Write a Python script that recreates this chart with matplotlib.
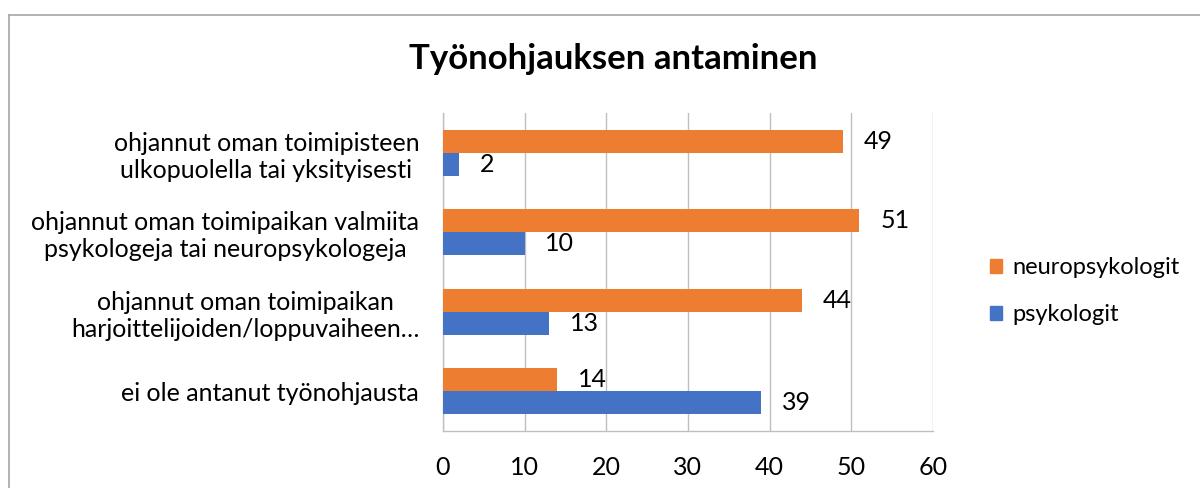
import matplotlib
matplotlib.use("Agg")
import matplotlib.pyplot as plt
from matplotlib.lines import Line2D
from matplotlib.patches import Patch
import numpy as np

plt.rcParams['font.family'] = ['Lato', 'DejaVu Sans']

# data, top to bottom as in the chart
categories = [
    "ohjannut oman toimipisteen\nulkopuolella tai yksityisesti",
    "ohjannut oman toimipaikan valmiita\npsykologeja tai neuropsykologeja",
    "ohjannut oman toimipaikan\nharjoittelijoiden/loppuvaiheen…",
    "ei ole antanut työnohjausta",
]
neuropsykologit = [49, 51, 44, 14]
psykologit = [2, 10, 13, 39]
series_names = ["neuropsykologit", "psykologit"]

ORANGE = "#ED7D31"
BLUE = "#4472C4"
GRID = "#BFBFBF"
FS = 18

fig = plt.figure(figsize=(12, 4.88), dpi=100)
ax = fig.add_axes([0.369, 0.1168, 0.4085, 0.6516])

y = np.arange(len(categories))[::-1]
h = 0.29
b1 = ax.barh(y + h / 2, neuropsykologit, height=h, color=ORANGE, zorder=3)
b2 = ax.barh(y - h / 2, psykologit, height=h, color=BLUE, zorder=3)

# value labels right of each bar
for bars in (b1, b2):
    for rect in bars:
        w = rect.get_width()
        ax.annotate("%d" % w, (w, rect.get_y() + rect.get_height() / 2),
                    xytext=(15, 0), textcoords="offset points",
                    ha="left", va="center", fontsize=FS, color="#000000")

ax.set_xlim(0, 60)
ax.set_ylim(-0.5, len(categories) - 0.5)
ax.set_xticks(range(0, 61, 10))
ax.set_yticks(y)
ax.set_yticklabels(categories, multialignment="center", fontsize=FS)
ax.tick_params(axis="y", length=0, pad=17)
ax.tick_params(axis="x", length=0, pad=18, labelsize=FS)

ax.grid(axis="x", color=GRID, linewidth=1, zorder=0)
ax.grid(axis="y", visible=False)
for s in ["top", "right"]:
    ax.spines[s].set_visible(False)
for s in ["left", "bottom"]:
    ax.spines[s].set_color(GRID)
    ax.spines[s].set_linewidth(1)

fig.text(0.511, 0.88, "Työnohjauksen antaminen", ha="center", va="center",
         fontsize=25, fontweight="bold")

handles = [Patch(color=ORANGE), Patch(color=BLUE)]
fig.legend(handles, series_names, loc="center left", bbox_to_anchor=(0.825, 0.403),
           frameon=False, fontsize=17, handlelength=0.5, handleheight=0.5,
           handletextpad=0.45, labelspacing=1.1, borderpad=0, borderaxespad=0)

# chart area border (cut off on right and bottom)
fig.add_artist(Line2D([0.0075, 0.0075], [0, 0.969], color="#A6A6A6", linewidth=1.2))
fig.add_artist(Line2D([0.0075, 1.0], [0.969, 0.969], color="#A6A6A6", linewidth=1.2))

plt.savefig("out.png", dpi=100)
